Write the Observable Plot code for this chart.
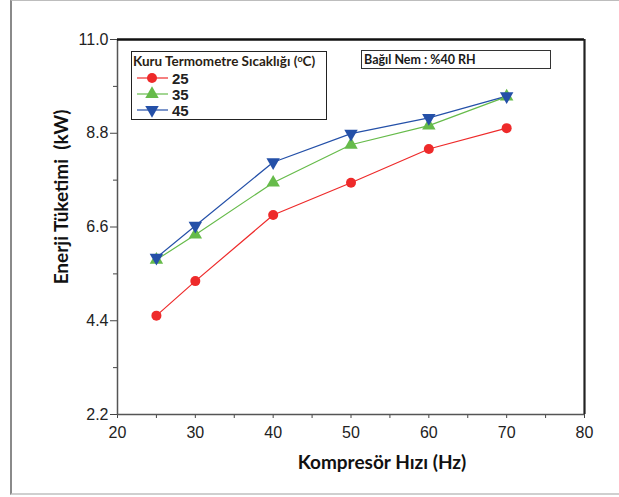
<!DOCTYPE html>
<html>
<head>
<meta charset="utf-8">
<script src="https://cdn.jsdelivr.net/npm/d3@7"></script>
<script src="https://cdn.jsdelivr.net/npm/@observablehq/plot@0.6"></script>
<style>
  html, body { margin: 0; padding: 0; background: #fff; }
  #wrap { position: relative; width: 619px; height: 497px; overflow: hidden; }
  #border { position: absolute; left: 10px; top: 0; width: 640px; height: 495px;
            border-left: 2px solid #8a8a8a; border-top: 1px solid #bdbdbd; border-bottom: 2px solid #cfcfcf; box-sizing: border-box; pointer-events: none; }
  #chart { position: absolute; left: 0; top: 0; }
  #chart svg text { font-family: "Liberation Sans", Arial, sans-serif; }
  #chart svg text.ttl { font-family: Lato, "Open Sans", sans-serif; }
</style>
</head>
<body>
<div id="wrap"><div id="chart"></div><div id="border"></div></div>
<script>
// ---- data ----
const speeds = [25, 30, 40, 50, 60, 70];            // Kompresör Hızı (Hz)
const series = ["25", "35", "45"];                   // Kuru Termometre Sıcaklığı (°C)
const energy25 = [4.52, 5.33, 6.88, 7.64, 8.43, 8.92];
const energy35 = [5.83, 6.42, 7.64, 8.53, 8.98, 9.66];
const energy45 = [5.88, 6.63, 8.12, 8.79, 9.16, 9.67];
const yTicks = [2.2, 4.4, 6.6, 8.8, 11.0];
const yMinorTicks = [3.3, 5.5, 7.7, 9.9];
const xTicks = [20, 30, 40, 50, 60, 70, 80];
const xMinorTicks = [25, 35, 45, 55, 65, 75];
const colors = {"25": "#ee2a2a", "35": "#66bb4a", "45": "#2450a8"};
const symbols = {"25": "circle", "35": "triangle", "45": "triangle"};
const rotations = {"25": 0, "35": 0, "45": 180};
const radii = {"25": 5, "35": 5, "45": 5};

const values = {"25": energy25, "35": energy35, "45": energy45};
const rows = series.flatMap(s => speeds.map((x, i) => ({s, x, y: values[s][i]})));

const plot = Plot.plot({
  width: 619, height: 497,
  marginLeft: 117, marginRight: 35, marginTop: 39, marginBottom: 83,
  style: {fontSize: "16px", color: "#222", background: "transparent", overflow: "visible"},
  x: {domain: [20, 80]},
  y: {domain: [2.2, 11.0]},
  marks: [
    Plot.axisX({ticks: xTicks, tickSize: 4, tickPadding: 8, tickFormat: d => String(d), label: null, stroke: "#444", fill: "#222", fontSize: 16}),
    Plot.axisX({ticks: xMinorTicks, tickSize: 4, text: null, label: null, stroke: "#444"}),
    Plot.axisY({ticks: yTicks, tickSize: 7, tickPadding: 2, tickFormat: d => d.toFixed(1), label: null, stroke: "#444", fill: "#222", fontSize: 16}),
    Plot.axisY({ticks: yMinorTicks, tickSize: 4, text: null, label: null, stroke: "#444"}),
    Plot.ruleX([20], {stroke: "#555", strokeWidth: 1.5}),
    Plot.ruleY([2.2], {stroke: "#555", strokeWidth: 1.5}),
    Plot.ruleY([11.0], {stroke: "#111", strokeWidth: 2.5}),
    Plot.ruleX([80], {stroke: "#222", strokeWidth: 2.2}),
    ...series.map(s => Plot.line(rows.filter(d => d.s === s), {x: "x", y: "y", stroke: colors[s], strokeWidth: 1.2})),
    ...series.map(s => Plot.dot(rows.filter(d => d.s === s), {x: "x", y: "y", fill: colors[s], stroke: "none",
      symbol: symbols[s], rotate: rotations[s], r: radii[s]}))
  ]
});
document.getElementById("chart").appendChild(plot);

// ---- legend & annotations ----
const svg = d3.select(plot);
const g = svg.append("g").attr("text-anchor", "start");
g.append("rect").attr("x", 131.5).attr("y", 51.5).attr("width", 195).attr("height", 68)
  .attr("fill", "#fff").attr("stroke", "#222").attr("stroke-width", 1);
const title = g.append("text").attr("class", "ttl").attr("x", 133).attr("y", 66)
  .attr("font-weight", "bold").attr("font-size", 13.5).attr("fill", "#2a1e14");
title.append("tspan").text("Kuru Termometre Sıcaklığı (");
title.append("tspan").text("o").attr("font-size", 9).attr("dy", -4.5);
title.append("tspan").text("C)").attr("dy", 4.5);

const sym = {circle: d3.symbolCircle, triangle: d3.symbolTriangle};
series.forEach((s, i) => {
  const cy = 78 + i * 16;
  g.append("line").attr("x1", 137).attr("x2", 168).attr("y1", cy).attr("y2", cy)
    .attr("stroke", colors[s]).attr("stroke-width", 1.2);
  const r = radii[s];
  g.append("path").attr("d", d3.symbol(sym[symbols[s]], Math.PI * r * r)())
    .attr("transform", `translate(152,${cy}) rotate(${rotations[s]})`).attr("fill", colors[s]);
  g.append("text").attr("x", 172).attr("y", cy + 5.5).text(s)
    .attr("font-weight", "bold").attr("font-size", 15).attr("fill", "#222");
});

g.append("rect").attr("x", 361.5).attr("y", 50.5).attr("width", 189).attr("height", 18)
  .attr("fill", "#fff").attr("stroke", "#333").attr("stroke-width", 1);
g.append("text").attr("class", "ttl").attr("x", 364).attr("y", 64).text("Bağıl Nem : %40 RH")
  .attr("font-weight", "bold").attr("font-size", 12.5).attr("fill", "#1a1a1a");

// axis titles
g.append("text").attr("class", "ttl").attr("transform", "translate(68,197) rotate(-90)").attr("text-anchor", "middle")
  .attr("font-weight", "bold").attr("font-size", 19).attr("fill", "#111")
  .style("white-space", "pre").text("Enerji Tüketimi  (kW)");
g.append("text").attr("class", "ttl").attr("x", 382).attr("y", 469).attr("text-anchor", "middle")
  .attr("font-weight", "bold").attr("font-size", 19).attr("fill", "#111")
  .text("Kompresör Hızı (Hz)");
</script>
</body>
</html>
